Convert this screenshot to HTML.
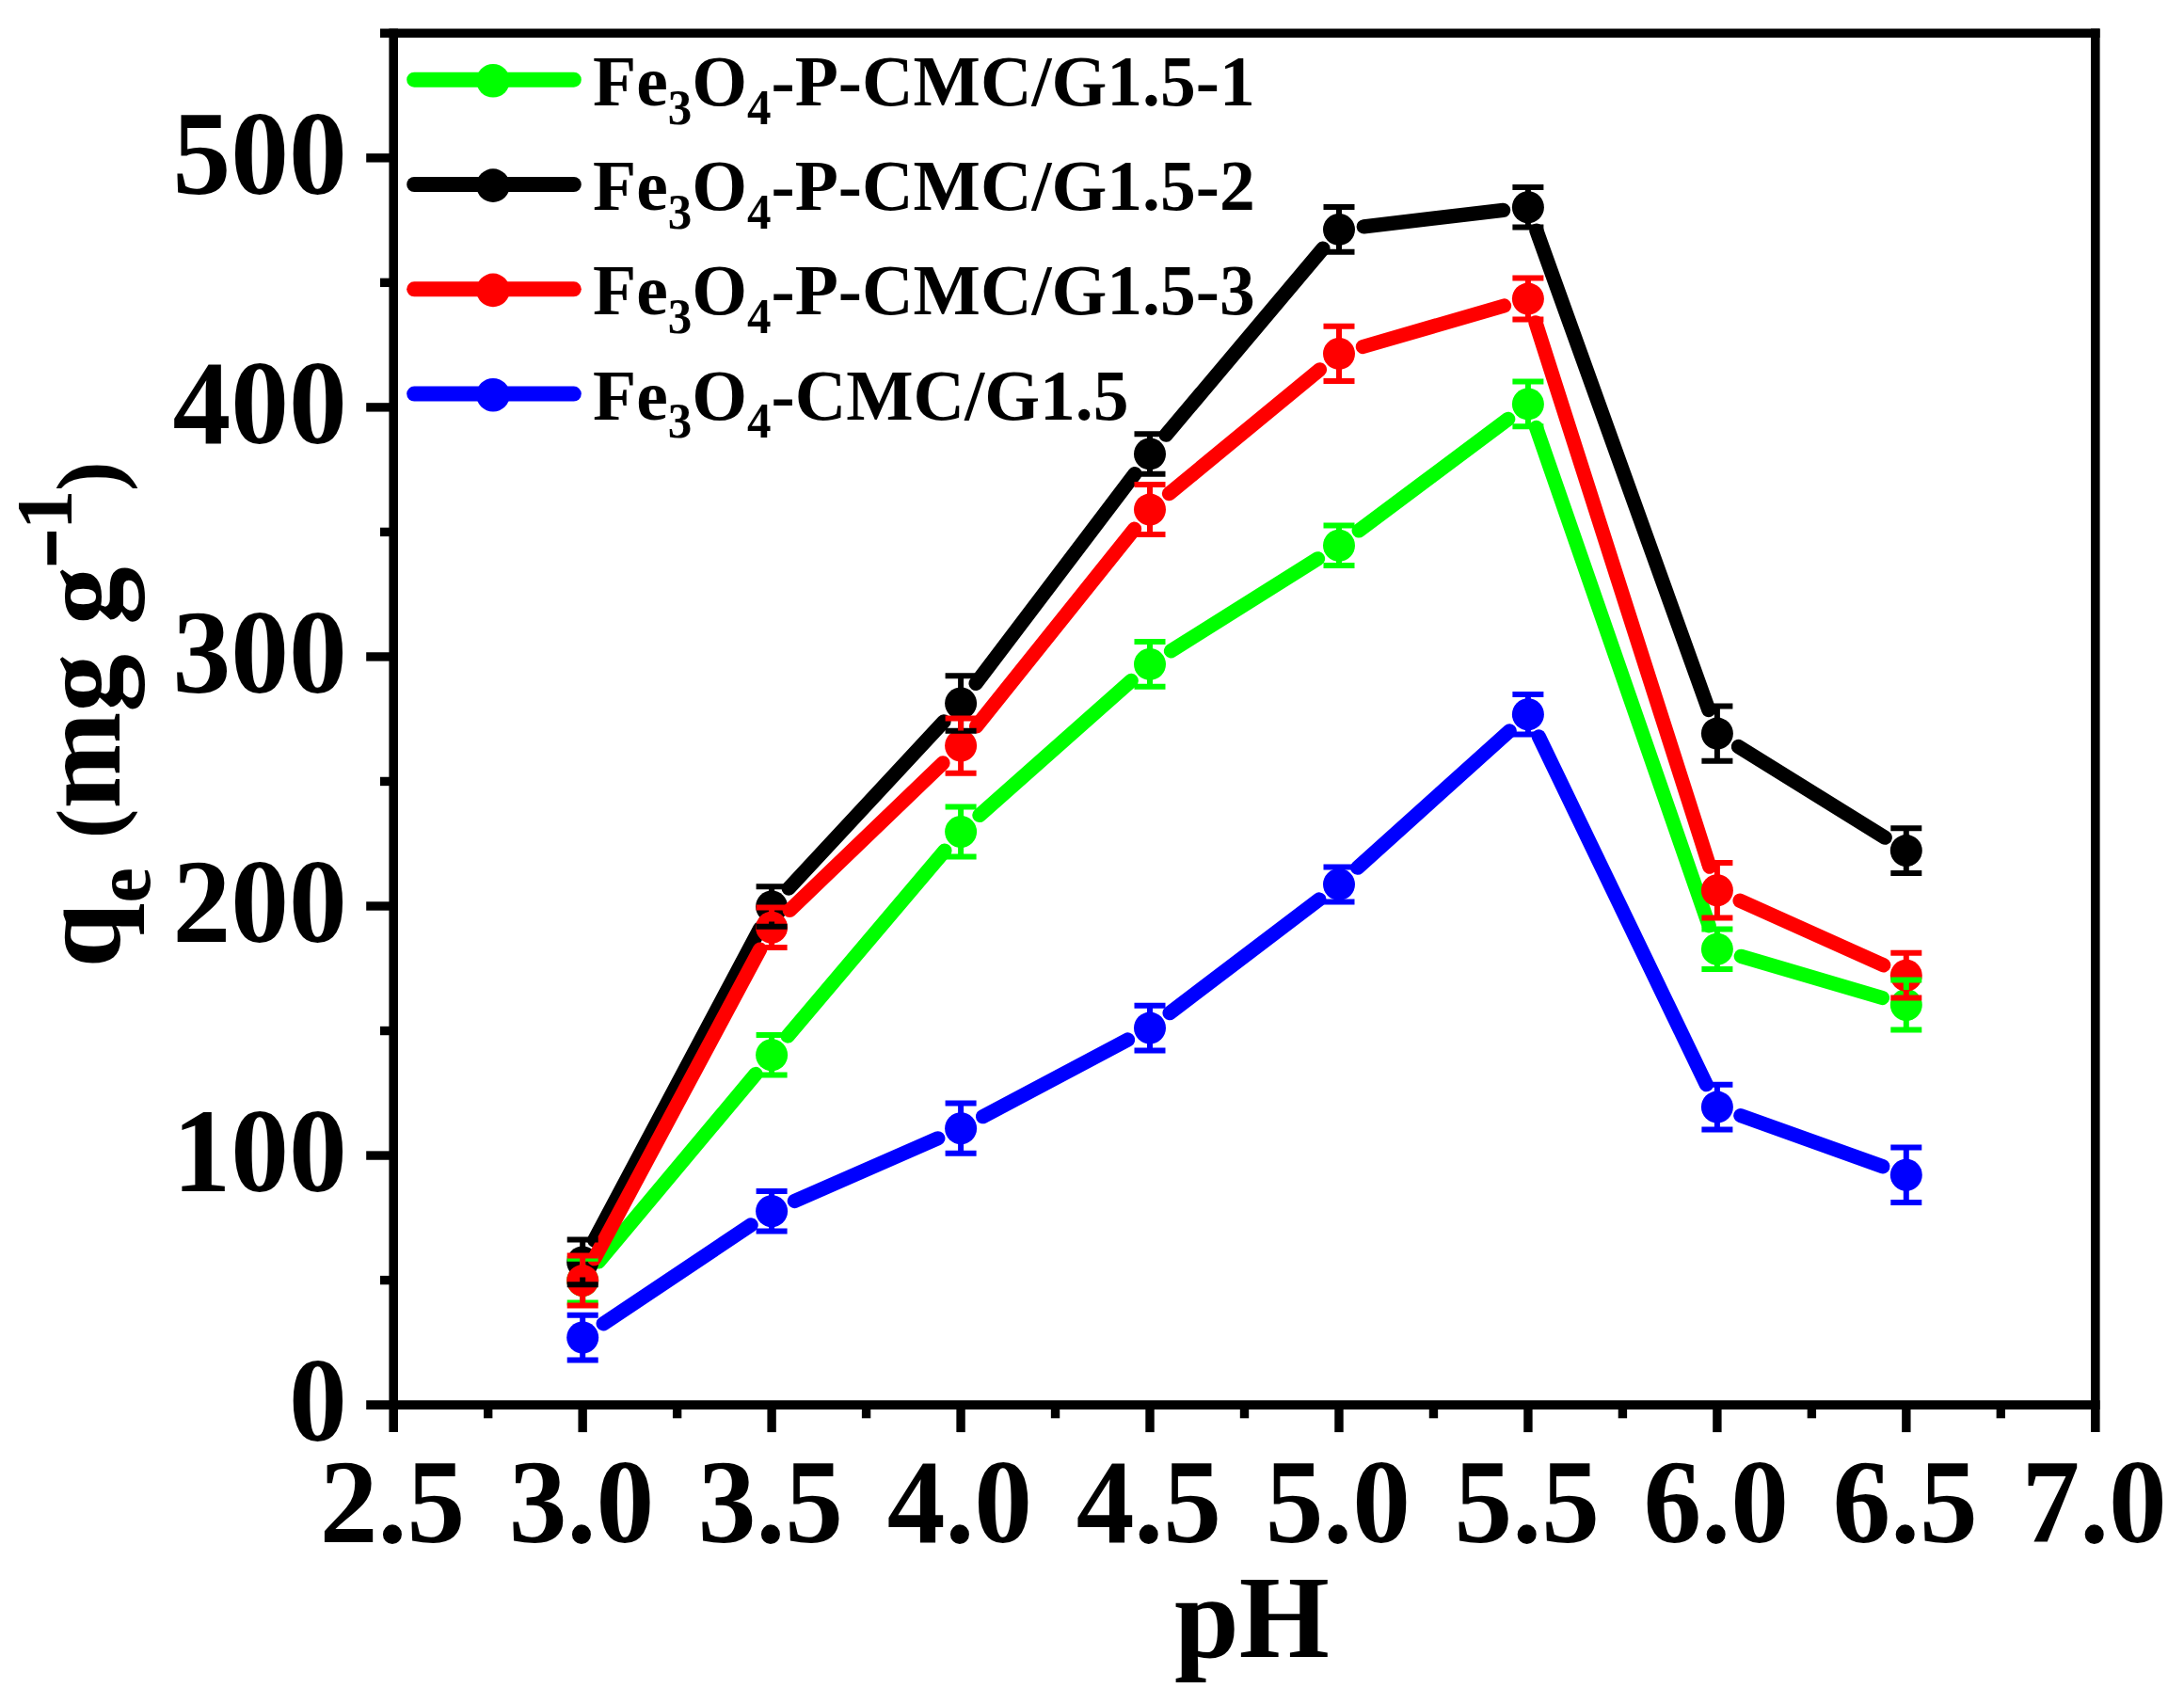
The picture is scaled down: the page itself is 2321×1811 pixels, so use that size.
<!DOCTYPE html>
<html lang="en"><head><meta charset="utf-8"><title>qe vs pH</title>
<style>html,body{margin:0;padding:0;background:#fff;overflow:hidden}svg{display:block}</style>
</head><body>
<svg width="2321" height="1811" viewBox="0 0 2321 1811">
<rect x="0" y="0" width="2321" height="1811" fill="#ffffff"/>
<g id="s-green" stroke="#00ff00" fill="#00ff00">
<line x1="636.2" y1="1340.8" x2="803.1" y2="1141.5" stroke-width="15.3" stroke-linecap="round"/>
<line x1="837.2" y1="1101.0" x2="1003.9" y2="904.2" stroke-width="15.3" stroke-linecap="round"/>
<line x1="1040.9" y1="866.4" x2="1202.2" y2="723.5" stroke-width="15.3" stroke-linecap="round"/>
<line x1="1244.5" y1="691.8" x2="1400.5" y2="593.8" stroke-width="15.3" stroke-linecap="round"/>
<line x1="1444.2" y1="563.9" x2="1602.7" y2="445.3" stroke-width="15.3" stroke-linecap="round"/>
<line x1="1632.6" y1="454.5" x2="1816.2" y2="983.8" stroke-width="15.3" stroke-linecap="round"/>
<line x1="1850.3" y1="1016.3" x2="2000.4" y2="1060.5" stroke-width="15.3" stroke-linecap="round"/>
<circle cx="619.2" cy="1361.1" r="17.0" stroke="none"/>
<circle cx="820.1" cy="1121.2" r="17.0" stroke="none"/>
<circle cx="1021.1" cy="884.0" r="17.0" stroke="none"/>
<circle cx="1222.0" cy="705.9" r="17.0" stroke="none"/>
<circle cx="1423.0" cy="579.7" r="17.0" stroke="none"/>
<circle cx="1623.9" cy="429.4" r="17.0" stroke="none"/>
<circle cx="1824.9" cy="1008.8" r="17.0" stroke="none"/>
<circle cx="2025.8" cy="1068.0" r="17.0" stroke="none"/>
</g>
<g id="s-black" stroke="#000000" fill="#000000">
<line x1="631.6" y1="1318.1" x2="807.7" y2="986.9" stroke-width="15.3" stroke-linecap="round"/>
<line x1="838.2" y1="944.1" x2="1003.0" y2="766.9" stroke-width="15.3" stroke-linecap="round"/>
<line x1="1037.1" y1="726.4" x2="1206.0" y2="503.6" stroke-width="15.3" stroke-linecap="round"/>
<line x1="1239.1" y1="462.2" x2="1405.9" y2="264.2" stroke-width="15.3" stroke-linecap="round"/>
<line x1="1449.3" y1="240.8" x2="1597.6" y2="223.4" stroke-width="15.3" stroke-linecap="round"/>
<line x1="1632.9" y1="245.2" x2="1815.9" y2="754.6" stroke-width="15.3" stroke-linecap="round"/>
<line x1="1847.4" y1="793.5" x2="2003.3" y2="890.2" stroke-width="15.3" stroke-linecap="round"/>
<circle cx="619.2" cy="1341.5" r="17.0" stroke="none"/>
<circle cx="820.1" cy="963.5" r="17.0" stroke="none"/>
<circle cx="1021.1" cy="747.5" r="17.0" stroke="none"/>
<circle cx="1222.0" cy="482.4" r="17.0" stroke="none"/>
<circle cx="1423.0" cy="243.9" r="17.0" stroke="none"/>
<circle cx="1623.9" cy="220.3" r="17.0" stroke="none"/>
<circle cx="1824.9" cy="779.6" r="17.0" stroke="none"/>
<circle cx="2025.8" cy="904.1" r="17.0" stroke="none"/>
</g>
<g id="s-red" stroke="#ff0000" fill="#ff0000">
<line x1="631.7" y1="1337.7" x2="807.6" y2="1009.1" stroke-width="15.3" stroke-linecap="round"/>
<line x1="839.2" y1="967.4" x2="1002.0" y2="810.9" stroke-width="15.3" stroke-linecap="round"/>
<line x1="1037.6" y1="771.9" x2="1205.5" y2="562.2" stroke-width="15.3" stroke-linecap="round"/>
<line x1="1242.5" y1="524.7" x2="1402.5" y2="392.8" stroke-width="15.3" stroke-linecap="round"/>
<line x1="1448.4" y1="368.5" x2="1598.5" y2="325.0" stroke-width="15.3" stroke-linecap="round"/>
<line x1="1632.0" y1="342.8" x2="1816.8" y2="921.1" stroke-width="15.3" stroke-linecap="round"/>
<line x1="1849.1" y1="957.2" x2="2001.7" y2="1025.8" stroke-width="15.3" stroke-linecap="round"/>
<circle cx="619.2" cy="1361.1" r="17.0" stroke="none"/>
<circle cx="820.1" cy="985.8" r="17.0" stroke="none"/>
<circle cx="1021.1" cy="792.6" r="17.0" stroke="none"/>
<circle cx="1222.0" cy="541.6" r="17.0" stroke="none"/>
<circle cx="1423.0" cy="375.9" r="17.0" stroke="none"/>
<circle cx="1623.9" cy="317.6" r="17.0" stroke="none"/>
<circle cx="1824.9" cy="946.3" r="17.0" stroke="none"/>
<circle cx="2025.8" cy="1036.7" r="17.0" stroke="none"/>
</g>
<g id="s-blue" stroke="#0000ff" fill="#0000ff">
<line x1="641.2" y1="1406.8" x2="798.1" y2="1301.9" stroke-width="15.3" stroke-linecap="round"/>
<line x1="844.4" y1="1276.5" x2="996.8" y2="1209.8" stroke-width="15.3" stroke-linecap="round"/>
<line x1="1044.5" y1="1186.7" x2="1198.6" y2="1105.0" stroke-width="15.3" stroke-linecap="round"/>
<line x1="1243.1" y1="1076.6" x2="1401.9" y2="956.0" stroke-width="15.3" stroke-linecap="round"/>
<line x1="1442.7" y1="922.2" x2="1604.2" y2="776.9" stroke-width="15.3" stroke-linecap="round"/>
<line x1="1635.4" y1="783.0" x2="1813.4" y2="1152.7" stroke-width="15.3" stroke-linecap="round"/>
<line x1="1849.8" y1="1185.6" x2="2000.9" y2="1239.8" stroke-width="15.3" stroke-linecap="round"/>
<circle cx="619.2" cy="1421.5" r="17.0" stroke="none"/>
<circle cx="820.1" cy="1287.2" r="17.0" stroke="none"/>
<circle cx="1021.1" cy="1199.2" r="17.0" stroke="none"/>
<circle cx="1222.0" cy="1092.6" r="17.0" stroke="none"/>
<circle cx="1423.0" cy="939.9" r="17.0" stroke="none"/>
<circle cx="1623.9" cy="759.2" r="17.0" stroke="none"/>
<circle cx="1824.9" cy="1176.6" r="17.0" stroke="none"/>
<circle cx="2025.8" cy="1248.7" r="17.0" stroke="none"/>
</g>
<g id="e-green" stroke="#00ff00" stroke-width="6.0" fill="none">
<path d="M602.7 1337.8H635.7M602.7 1384.4H635.7M619.2 1337.8V1345.1M619.2 1377.1V1384.4"/>
<path d="M803.6 1100.0H836.6M803.6 1142.4H836.6M820.1 1100.0V1105.2M820.1 1137.2V1142.4"/>
<path d="M1004.6 857.5H1037.6M1004.6 910.5H1037.6M1021.1 857.5V868.0M1021.1 900.0V910.5"/>
<path d="M1205.5 682.0H1238.5M1205.5 729.7H1238.5M1222.0 682.0V689.9M1222.0 721.9V729.7"/>
<path d="M1406.5 558.5H1439.5M1406.5 600.9H1439.5M1423.0 558.5V563.7M1423.0 595.7V600.9"/>
<path d="M1607.4 405.6H1640.4M1607.4 453.3H1640.4M1623.9 405.6V413.4M1623.9 445.4V453.3"/>
<path d="M1808.4 987.6H1841.4M1808.4 1030.0H1841.4M1824.9 987.6V992.8M1824.9 1024.8V1030.0"/>
<path d="M2009.3 1041.4H2042.3M2009.3 1094.5H2042.3M2025.8 1041.4V1052.0M2025.8 1084.0V1094.5"/>
</g>
<g id="e-black" stroke="#000000" stroke-width="6.0" fill="none">
<path d="M602.7 1317.6H635.7M602.7 1365.3H635.7M619.2 1317.6V1325.5M619.2 1357.5V1365.3"/>
<path d="M803.6 942.3H836.6M803.6 984.7H836.6M820.1 942.3V947.5M820.1 979.5V984.7"/>
<path d="M1004.6 718.3H1037.6M1004.6 776.7H1037.6M1021.1 718.3V731.5M1021.1 763.5V776.7"/>
<path d="M1205.5 461.2H1238.5M1205.5 503.7H1238.5M1222.0 461.2V466.4M1222.0 498.4V503.7"/>
<path d="M1406.5 220.0H1439.5M1406.5 267.8H1439.5M1423.0 220.0V227.9M1423.0 259.9V267.8"/>
<path d="M1607.4 199.1H1640.4M1607.4 241.5H1640.4M1623.9 199.1V204.3M1623.9 236.3V241.5"/>
<path d="M1808.4 750.4H1841.4M1808.4 808.7H1841.4M1824.9 750.4V763.6M1824.9 795.6V808.7"/>
<path d="M2009.3 880.3H2042.3M2009.3 928.0H2042.3M2025.8 880.3V888.1M2025.8 920.1V928.0"/>
</g>
<g id="e-red" stroke="#ff0000" stroke-width="6.0" fill="none">
<path d="M602.7 1334.6H635.7M602.7 1387.6H635.7M619.2 1334.6V1345.1M619.2 1377.1V1387.6"/>
<path d="M803.6 964.6H836.6M803.6 1007.0H836.6M820.1 964.6V969.8M820.1 1001.8V1007.0"/>
<path d="M1004.6 763.4H1037.6M1004.6 821.7H1037.6M1021.1 763.4V776.6M1021.1 808.6V821.7"/>
<path d="M1205.5 515.0H1238.5M1205.5 568.1H1238.5M1222.0 515.0V525.6M1222.0 557.6V568.1"/>
<path d="M1406.5 346.7H1439.5M1406.5 405.1H1439.5M1423.0 346.7V359.9M1423.0 391.9V405.1"/>
<path d="M1607.4 295.6H1640.4M1607.4 339.6H1640.4M1623.9 295.6V301.6M1623.9 333.6V339.6"/>
<path d="M1808.4 917.1H1841.4M1808.4 975.4H1841.4M1824.9 917.1V930.3M1824.9 962.3V975.4"/>
<path d="M2009.3 1012.8H2042.3M2009.3 1060.5H2042.3M2025.8 1012.8V1020.7M2025.8 1052.7V1060.5"/>
</g>
<g id="e-blue" stroke="#0000ff" stroke-width="6.0" fill="none">
<path d="M602.7 1397.7H635.7M602.7 1445.4H635.7M619.2 1397.7V1405.5M619.2 1437.5V1445.4"/>
<path d="M803.6 1265.9H836.6M803.6 1308.4H836.6M820.1 1265.9V1271.2M820.1 1303.2V1308.4"/>
<path d="M1004.6 1172.6H1037.6M1004.6 1225.7H1037.6M1021.1 1172.6V1183.2M1021.1 1215.2V1225.7"/>
<path d="M1205.5 1068.7H1238.5M1205.5 1116.5H1238.5M1222.0 1068.7V1076.6M1222.0 1108.6V1116.5"/>
<path d="M1406.5 921.4H1439.5M1406.5 958.5H1439.5M1423.0 921.4V923.9M1423.0 955.9V958.5"/>
<path d="M1607.4 738.0H1640.4M1607.4 780.4H1640.4M1623.9 738.0V743.2M1623.9 775.2V780.4"/>
<path d="M1808.4 1152.8H1841.4M1808.4 1200.5H1841.4M1824.9 1152.8V1160.6M1824.9 1192.6V1200.5"/>
<path d="M2009.3 1219.6H2042.3M2009.3 1277.9H2042.3M2025.8 1219.6V1232.7M2025.8 1264.7V1277.9"/>
</g>
<g id="axes" stroke="#000" fill="none" stroke-linecap="butt">
<line x1="418.2" y1="30.50" x2="418.2" y2="1522.10" stroke-width="9.6"/>
<line x1="2226.8" y1="30.50" x2="2226.8" y2="1522.10" stroke-width="9.6"/>
<line x1="404.00" y1="35.3" x2="2231.60" y2="35.3" stroke-width="9.6"/>
<line x1="389.20" y1="1493.1" x2="2231.60" y2="1493.1" stroke-width="9.6"/>
<line x1="404.00" y1="1360.57" x2="418.2" y2="1360.57" stroke-width="9.4"/>
<line x1="389.20" y1="1228.05" x2="418.2" y2="1228.05" stroke-width="9.4"/>
<line x1="404.00" y1="1095.52" x2="418.2" y2="1095.52" stroke-width="9.4"/>
<line x1="389.20" y1="962.99" x2="418.2" y2="962.99" stroke-width="9.4"/>
<line x1="404.00" y1="830.46" x2="418.2" y2="830.46" stroke-width="9.4"/>
<line x1="389.20" y1="697.94" x2="418.2" y2="697.94" stroke-width="9.4"/>
<line x1="404.00" y1="565.41" x2="418.2" y2="565.41" stroke-width="9.4"/>
<line x1="389.20" y1="432.88" x2="418.2" y2="432.88" stroke-width="9.4"/>
<line x1="404.00" y1="300.35" x2="418.2" y2="300.35" stroke-width="9.4"/>
<line x1="389.20" y1="167.83" x2="418.2" y2="167.83" stroke-width="9.4"/>
<line x1="518.68" y1="1493.1" x2="518.68" y2="1507.30" stroke-width="9.4"/>
<line x1="619.16" y1="1493.1" x2="619.16" y2="1522.10" stroke-width="9.4"/>
<line x1="719.63" y1="1493.1" x2="719.63" y2="1507.30" stroke-width="9.4"/>
<line x1="820.11" y1="1493.1" x2="820.11" y2="1522.10" stroke-width="9.4"/>
<line x1="920.59" y1="1493.1" x2="920.59" y2="1507.30" stroke-width="9.4"/>
<line x1="1021.07" y1="1493.1" x2="1021.07" y2="1522.10" stroke-width="9.4"/>
<line x1="1121.54" y1="1493.1" x2="1121.54" y2="1507.30" stroke-width="9.4"/>
<line x1="1222.02" y1="1493.1" x2="1222.02" y2="1522.10" stroke-width="9.4"/>
<line x1="1322.50" y1="1493.1" x2="1322.50" y2="1507.30" stroke-width="9.4"/>
<line x1="1422.98" y1="1493.1" x2="1422.98" y2="1522.10" stroke-width="9.4"/>
<line x1="1523.46" y1="1493.1" x2="1523.46" y2="1507.30" stroke-width="9.4"/>
<line x1="1623.93" y1="1493.1" x2="1623.93" y2="1522.10" stroke-width="9.4"/>
<line x1="1724.41" y1="1493.1" x2="1724.41" y2="1507.30" stroke-width="9.4"/>
<line x1="1824.89" y1="1493.1" x2="1824.89" y2="1522.10" stroke-width="9.4"/>
<line x1="1925.37" y1="1493.1" x2="1925.37" y2="1507.30" stroke-width="9.4"/>
<line x1="2025.84" y1="1493.1" x2="2025.84" y2="1522.10" stroke-width="9.4"/>
<line x1="2126.32" y1="1493.1" x2="2126.32" y2="1507.30" stroke-width="9.4"/>
</g>
<g id="ylabels" font-family="'Liberation Serif',serif" font-weight="bold" font-size="123.5" text-anchor="end" fill="#000">
<text transform="translate(368.8,1531.0) scale(1,1.035)">0</text>
<text transform="translate(368.8,1265.9) scale(1,1.035)">100</text>
<text transform="translate(368.8,1000.9) scale(1,1.035)">200</text>
<text transform="translate(368.8,735.8) scale(1,1.035)">300</text>
<text transform="translate(368.8,470.8) scale(1,1.035)">400</text>
<text transform="translate(368.8,205.7) scale(1,1.035)">500</text>
</g>
<g id="xlabels" font-family="'Liberation Serif',serif" font-weight="bold" font-size="123.5" text-anchor="middle" fill="#000">
<text transform="translate(417.0,1639) scale(1,1.035)">2.5</text>
<text transform="translate(618.0,1639) scale(1,1.035)">3.0</text>
<text transform="translate(818.9,1639) scale(1,1.035)">3.5</text>
<text transform="translate(1019.9,1639) scale(1,1.035)">4.0</text>
<text transform="translate(1220.8,1639) scale(1,1.035)">4.5</text>
<text transform="translate(1421.8,1639) scale(1,1.035)">5.0</text>
<text transform="translate(1622.7,1639) scale(1,1.035)">5.5</text>
<text transform="translate(1823.7,1639) scale(1,1.035)">6.0</text>
<text transform="translate(2024.6,1639) scale(1,1.035)">6.5</text>
<text transform="translate(2225.6,1639) scale(1,1.035)">7.0</text>
</g>
<text id="xtitle" font-family="'Liberation Serif',serif" font-weight="bold" font-size="123.5" text-anchor="middle" transform="translate(1330.5,1760.9) scale(1,1.02)" fill="#000">pH</text>
<g id="ytitle" transform="translate(127,1028.5) rotate(-90)" font-family="'Liberation Serif',serif" font-weight="bold" fill="#000"><text font-size="123.5" x="0" y="0">q<tspan font-size="85" dy="32">e</tspan><tspan dy="-32"> </tspan><tspan font-size="95" dy="-1.3">(</tspan><tspan dy="1.3">mg g</tspan></text><text font-size="85" transform="translate(423.2,-45.1) scale(1.6,1.35)">-</text><text font-size="85" x="465.5" y="-51">1</text><text font-size="95" x="506.5" y="-1.3">)</text></g>
<g id="legend">
<line x1="440.2" y1="84.7" x2="609.8" y2="84.7" stroke="#00ff00" stroke-width="16" stroke-linecap="round"/>
<circle cx="524" cy="85.8" r="17.8" fill="#00ff00"/>
<text font-family="'Liberation Serif',serif" font-weight="bold" font-size="75.6" transform="translate(630,111.7) scale(1,1.02)" fill="#000">Fe<tspan font-size="51" dy="19.5">3</tspan><tspan dy="-19.5">O</tspan><tspan font-size="51" dy="19.5">4</tspan><tspan dy="-19.5">-P-CMC/G1.5-1</tspan></text>
<line x1="440.2" y1="196.0" x2="609.8" y2="196.0" stroke="#000000" stroke-width="16" stroke-linecap="round"/>
<circle cx="524" cy="197.1" r="17.8" fill="#000000"/>
<text font-family="'Liberation Serif',serif" font-weight="bold" font-size="75.6" transform="translate(630,223.0) scale(1,1.02)" fill="#000">Fe<tspan font-size="51" dy="19.5">3</tspan><tspan dy="-19.5">O</tspan><tspan font-size="51" dy="19.5">4</tspan><tspan dy="-19.5">-P-CMC/G1.5-2</tspan></text>
<line x1="440.2" y1="307.3" x2="609.8" y2="307.3" stroke="#ff0000" stroke-width="16" stroke-linecap="round"/>
<circle cx="524" cy="308.4" r="17.8" fill="#ff0000"/>
<text font-family="'Liberation Serif',serif" font-weight="bold" font-size="75.6" transform="translate(630,334.3) scale(1,1.02)" fill="#000">Fe<tspan font-size="51" dy="19.5">3</tspan><tspan dy="-19.5">O</tspan><tspan font-size="51" dy="19.5">4</tspan><tspan dy="-19.5">-P-CMC/G1.5-3</tspan></text>
<line x1="440.2" y1="418.6" x2="609.8" y2="418.6" stroke="#0000ff" stroke-width="16" stroke-linecap="round"/>
<circle cx="524" cy="419.7" r="17.8" fill="#0000ff"/>
<text font-family="'Liberation Serif',serif" font-weight="bold" font-size="75.6" transform="translate(630,445.6) scale(1,1.02)" fill="#000">Fe<tspan font-size="51" dy="19.5">3</tspan><tspan dy="-19.5">O</tspan><tspan font-size="51" dy="19.5">4</tspan><tspan dy="-19.5">-CMC/G1.5</tspan></text>
</g>
</svg>
</body></html>
